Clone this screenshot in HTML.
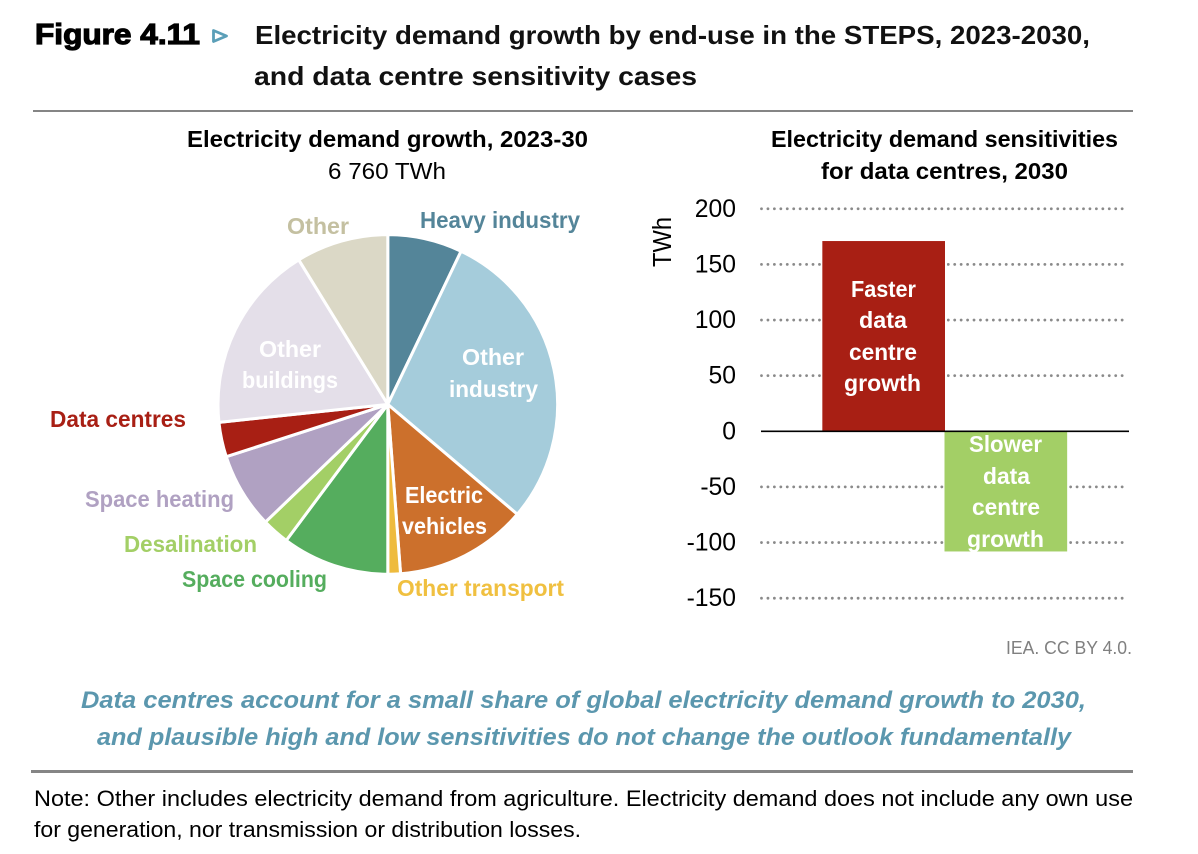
<!DOCTYPE html>
<html lang="en">
<head>
<meta charset="utf-8">
<title>Electricity demand growth by end-use</title>
<style>
html,body{margin:0;padding:0;background:#fff;width:1198px;height:854px;overflow:hidden}
svg{display:block}
text{font-family:"Liberation Sans",sans-serif}
.t{font-size:26px;font-weight:bold;fill:#111}
.h{font-size:23px;font-weight:bold;fill:#000}
.l{font-size:23px;font-weight:bold}
.w{font-size:23px;font-weight:bold;fill:#fff}
.c{font-size:24px;font-weight:bold;font-style:italic;fill:#5b97ae}
.n{font-size:22px;fill:#000}
.k{font-size:24.7px;fill:#000;text-anchor:end}
</style>
</head>
<body>
<svg id="fig" xmlns="http://www.w3.org/2000/svg" width="1198" height="854" viewBox="0 0 1198 854">
<rect width="1198" height="854" fill="#fff"/>
<text x="35" y="44" style="font-size:29px;font-weight:bold;stroke:#000;stroke-width:1.2" fill="#000" textLength="165" lengthAdjust="spacingAndGlyphs">Figure 4.11</text>
<polygon points="213.5,30.5 226.5,36 213.5,41.5" fill="#fff" stroke="#5b9fb8" stroke-width="2.8" stroke-linejoin="round"/>
<text class="t" x="255" y="44" textLength="835" lengthAdjust="spacingAndGlyphs">Electricity demand growth by end-use in the STEPS, 2023-2030,</text>
<text class="t" x="254" y="85" textLength="443" lengthAdjust="spacingAndGlyphs">and data centre sensitivity cases</text>
<rect x="33" y="110" width="1100" height="2" fill="#858585"/>

<text class="h" x="187" y="147" textLength="401" lengthAdjust="spacingAndGlyphs">Electricity demand growth, 2023-30</text>
<text x="328" y="179" style="font-size:23px" fill="#000" textLength="118" lengthAdjust="spacingAndGlyphs">6 760 TWh</text>
<text class="h" x="771" y="147" textLength="347" lengthAdjust="spacingAndGlyphs">Electricity demand sensitivities</text>
<text class="h" x="821" y="179" textLength="247" lengthAdjust="spacingAndGlyphs">for data centres, 2030</text>

<g id="pie"></g>
<g id="bars"></g>

<text class="l" x="420" y="228" fill="#548599" textLength="160" lengthAdjust="spacingAndGlyphs">Heavy industry</text>
<text class="l" x="287" y="234" fill="#c4c0a1" textLength="62" lengthAdjust="spacingAndGlyphs">Other</text>
<text class="w" x="259" y="357" textLength="62" lengthAdjust="spacingAndGlyphs">Other</text>
<text class="w" x="242" y="388" textLength="96" lengthAdjust="spacingAndGlyphs">buildings</text>
<text class="w" x="462" y="365" textLength="62" lengthAdjust="spacingAndGlyphs">Other</text>
<text class="w" x="449" y="397" textLength="89" lengthAdjust="spacingAndGlyphs">industry</text>
<text class="w" x="405" y="503" textLength="78" lengthAdjust="spacingAndGlyphs">Electric</text>
<text class="w" x="402" y="534" textLength="85" lengthAdjust="spacingAndGlyphs">vehicles</text>
<text class="l" x="50" y="427" fill="#a81f14" textLength="136" lengthAdjust="spacingAndGlyphs">Data centres</text>
<text class="l" x="85" y="507" fill="#b0a1c2" textLength="149" lengthAdjust="spacingAndGlyphs">Space heating</text>
<text class="l" x="124" y="552" fill="#a3cf66" textLength="133" lengthAdjust="spacingAndGlyphs">Desalination</text>
<text class="l" x="182" y="587" fill="#55ad5e" textLength="145" lengthAdjust="spacingAndGlyphs">Space cooling</text>
<text class="l" x="397" y="596" fill="#f0c040" textLength="167" lengthAdjust="spacingAndGlyphs">Other transport</text>

<text x="671" y="242" transform="rotate(-90 671 242)" text-anchor="middle" style="font-size:25.5px" fill="#000" textLength="50" lengthAdjust="spacingAndGlyphs">TWh</text>

<text class="w" x="851" y="297" textLength="65" lengthAdjust="spacingAndGlyphs">Faster</text>
<text class="w" x="859" y="328" textLength="48" lengthAdjust="spacingAndGlyphs">data</text>
<text class="w" x="849" y="360" textLength="68" lengthAdjust="spacingAndGlyphs">centre</text>
<text class="w" x="844" y="391" textLength="77" lengthAdjust="spacingAndGlyphs">growth</text>
<text class="w" x="969" y="452" textLength="73" lengthAdjust="spacingAndGlyphs">Slower</text>
<text class="w" x="983" y="484" textLength="47" lengthAdjust="spacingAndGlyphs">data</text>
<text class="w" x="972" y="515" textLength="68" lengthAdjust="spacingAndGlyphs">centre</text>
<text class="w" x="967" y="547" textLength="77" lengthAdjust="spacingAndGlyphs">growth</text>

<text x="1006" y="654" style="font-size:18px" fill="#808080" textLength="126" lengthAdjust="spacingAndGlyphs">IEA. CC BY 4.0.</text>

<text class="c" x="81" y="708" textLength="1005" lengthAdjust="spacingAndGlyphs">Data centres account for a small share of global electricity demand growth to 2030,</text>
<text class="c" x="97" y="745" textLength="974" lengthAdjust="spacingAndGlyphs">and plausible high and low sensitivities do not change the outlook fundamentally</text>
<rect x="31" y="770" width="1102" height="3" fill="#858585"/>
<text class="n" x="34" y="806" textLength="1099" lengthAdjust="spacingAndGlyphs">Note: Other includes electricity demand from agriculture. Electricity demand does not include any own use</text>
<text class="n" x="34" y="837" textLength="547" lengthAdjust="spacingAndGlyphs">for generation, nor transmission or distribution losses.</text>
</svg>
<script>
const pieCategories = ["Heavy industry","Other industry","Electric vehicles","Other transport","Space cooling","Desalination","Space heating","Data centres","Other buildings","Other"];
const pieValues = [480,1967,852,81,690,176,487,223,1210,594];
const pieColors = ["#548599","#a5ccdb","#cc702c","#eebb3e","#55ad5e","#a3cf66","#b0a1c2","#a81f14","#e4dfe9","#dbd8c6"];

const barCategories = ["Faster data centre growth","Slower data centre growth"];
const barValues = [171,-108];
const barColors = ["#a81f14","#a3cf66"];
const tickValues = [200,150,100,50,0,-50,-100,-150];

const NS = "http://www.w3.org/2000/svg";

const pieX = 387.8, pieY = 404.4, pieR = 169.8;
const pieGroup = document.getElementById("pie");
const pieTotal = pieValues.reduce(function (a, b) { return a + b; }, 0);
function angleOf(v) { return v / pieTotal * 2 * Math.PI; }
let running = 0;
pieValues.forEach(function (v, i) {
  const a0 = angleOf(running);
  running += v;
  const a1 = angleOf(running);
  const large = a1 - a0 > Math.PI ? 1 : 0;
  const d = "M" + pieX + " " + pieY +
    "L" + (pieX + pieR * Math.sin(a0)) + " " + (pieY - pieR * Math.cos(a0)) +
    "A" + pieR + " " + pieR + " 0 " + large + " 1 " + (pieX + pieR * Math.sin(a1)) + " " + (pieY - pieR * Math.cos(a1)) + "Z";
  const slice = document.createElementNS(NS, "path");
  slice.setAttribute("d", d);
  slice.setAttribute("fill", pieColors[i]);
  slice.setAttribute("stroke", "#fff");
  slice.setAttribute("stroke-width", "3");
  slice.setAttribute("stroke-linejoin", "round");
  
  
  pieGroup.appendChild(slice);
});

const plotLeft = 761, plotRight = 1129, plotWidth = plotRight - plotLeft;
const zeroY = 431.3, pxPerUnit = 1.1126;
function yScale(v) { return zeroY - v * pxPerUnit; }
const barGroup = document.getElementById("bars");

tickValues.forEach(function (t) {
  if (t !== 0) {
    const grid = document.createElementNS(NS, "line");
    grid.setAttribute("x1", plotLeft + 0.5);
    grid.setAttribute("x2", 1124);
    grid.setAttribute("y1", yScale(t));
    grid.setAttribute("y2", yScale(t));
    grid.setAttribute("stroke", "#8a8a8a");
    grid.setAttribute("stroke-width", "2.8");
    grid.setAttribute("stroke-linecap", "round");
    grid.setAttribute("stroke-dasharray", "0.01 6.43");
    
    
    barGroup.appendChild(grid);
  }
  const label = document.createElementNS(NS, "text");
  label.setAttribute("class", "k");
  label.setAttribute("x", 736);
  label.setAttribute("y", yScale(t) + 8);
  label.textContent = String(t);
  
  
  barGroup.appendChild(label);
});

const barSlot = plotWidth / (barCategories.length + 1);
barValues.forEach(function (v, i) {
  const barX = plotLeft + barSlot / 2 + i * (barSlot - 0.5);
  const barTop = Math.min(yScale(v), zeroY);
  const barHeight = Math.abs(v) * pxPerUnit;
  const halo = document.createElementNS(NS, "rect");
  halo.setAttribute("x", barX + barSlot - 1);
  halo.setAttribute("width", 3);
  halo.setAttribute("y", barTop);
  halo.setAttribute("height", barHeight);
  halo.setAttribute("fill", "#fff");
  
  
  barGroup.appendChild(halo);
  const bar = document.createElementNS(NS, "rect");
  bar.setAttribute("x", barX);
  bar.setAttribute("width", barSlot);
  bar.setAttribute("y", barTop);
  bar.setAttribute("height", barHeight);
  bar.setAttribute("fill", barColors[i]);
  
  
  barGroup.appendChild(bar);
});

const axis = document.createElementNS(NS, "line");
axis.setAttribute("x1", plotLeft);
axis.setAttribute("x2", plotRight);
axis.setAttribute("y1", yScale(0));
axis.setAttribute("y2", yScale(0));
axis.setAttribute("stroke", "#000");
axis.setAttribute("stroke-width", "1.6");


barGroup.appendChild(axis);
</script>
</body>
</html>
